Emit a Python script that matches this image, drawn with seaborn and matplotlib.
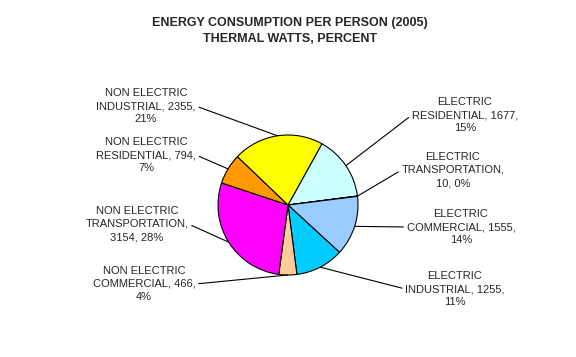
import numpy as np
import matplotlib.pyplot as plt
import seaborn as sns

# energy use per person, thermal watts (2005)
categories = ["ELECTRIC\nRESIDENTIAL", "ELECTRIC\nTRANSPORTATION", "ELECTRIC\nCOMMERCIAL",
              "ELECTRIC\nINDUSTRIAL", "NON ELECTRIC\nCOMMERCIAL", "NON ELECTRIC\nTRANSPORTATION",
              "NON ELECTRIC\nRESIDENTIAL", "NON ELECTRIC\nINDUSTRIAL"]
watts = [1677, 10, 1555, 1255, 466, 3154, 794, 2355]
label_text = ["ELECTRIC\nRESIDENTIAL, 1677,\n15%",
              "ELECTRIC\nTRANSPORTATION,\n10, 0%",
              "ELECTRIC\nCOMMERCIAL, 1555,\n14%",
              "ELECTRIC\nINDUSTRIAL, 1255,\n11%",
              "NON ELECTRIC\nCOMMERCIAL, 466,\n4%",
              "NON ELECTRIC\nTRANSPORTATION,\n3154, 28%",
              "NON ELECTRIC\nRESIDENTIAL, 794,\n7%",
              "NON ELECTRIC\nINDUSTRIAL, 2355,\n21%"]
colors = ["#CCFFFF", "#3366FF", "#99CCFF", "#00CCFF", "#FFCC99", "#FF00FF", "#FF9900", "#FFFF00"]

# label centres in pixels (x, y from top)
label_pos = [(465, 115), (453, 170), (461, 227), (455, 289),
             (144, 284), (137, 224), (146, 155), (146, 106)]

sns.set_theme(style="white")
plt.rcParams["font.family"] = ["Liberation Sans", "DejaVu Sans"]

W, H = 576, 357
fig = plt.figure(figsize=(W / 100, H / 100), dpi=100)
fig.patch.set_facecolor("white")

cx, cy, r = 288, 205, 70
ax = fig.add_axes([(cx - r) / W, (H - cy - r) / H, 2 * r / W, 2 * r / H])
wedges, _ = ax.pie(watts, colors=colors, startangle=61, counterclock=False, radius=1,
                   wedgeprops=dict(edgecolor="black", linewidth=0.8))
ax.set_xlim(-1, 1)
ax.set_ylim(-1, 1)
ax.set_aspect("equal")
ax.axis("off")

for w, txt, (px, py) in zip(wedges, label_text, label_pos):
    mid = np.deg2rad((w.theta1 + w.theta2) / 2)
    xy = (np.cos(mid), np.sin(mid))
    right = xy[0] > 0
    ax.annotate(txt, xy=xy, xycoords="data",
                xytext=(px / W, 1 - py / H), textcoords="figure fraction",
                ha="center", va="center", fontsize=8, linespacing=1.4,
                arrowprops=dict(arrowstyle="-", color="black", lw=0.8,
                                shrinkA=0, shrinkB=0,
                                relpos=(0, 0.5) if right else (1, 0.5)))

fig.text(290 / W, 1 - 31 / H, "ENERGY CONSUMPTION PER PERSON (2005)\nTHERMAL WATTS, PERCENT",
         ha="center", va="center", fontsize=9, fontweight="bold", linespacing=1.5)

fig.savefig("out.png", dpi=100, facecolor="white")
